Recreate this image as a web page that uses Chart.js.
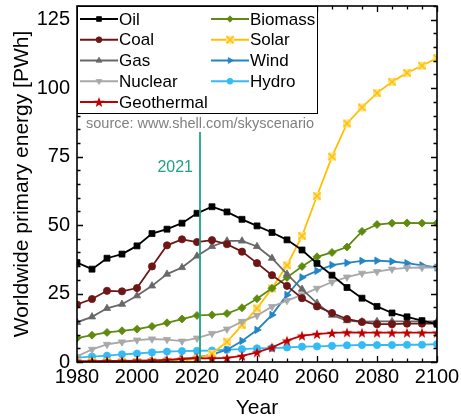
<!DOCTYPE html>
<html>
<head>
<meta charset="utf-8">
<script src="https://cdn.jsdelivr.net/npm/chart.js@4.4.0/dist/chart.umd.min.js"></script>
<style>
  html, body { margin: 0; padding: 0; background: #fff; }
  #wrap { width: 461px; height: 419px; }
</style>
</head>
<body>
<div id="wrap"><canvas id="myChart" width="461" height="419"></canvas></div>
<script>
// Shell Sky scenario, world primary energy by source [PWh]
const years = [1980, 1985, 1990, 1995, 2000, 2005, 2010, 2015, 2020, 2025, 2030, 2035, 2040,
  2045, 2050, 2055, 2060, 2065, 2070, 2075, 2080, 2085, 2090, 2095, 2100];

const oil = [36.3, 33.9, 37.9, 39.4, 42.4, 46.9, 48.5, 50.7, 54.3, 56.7, 54.8, 52.1, 49.7,
  47.3, 44.6, 40.9, 36.0, 31.7, 27.2, 23.3, 20.3, 17.9, 16.5, 15.1, 13.8];
const coal = [21.0, 23.0, 26.0, 25.8, 27.0, 34.9, 42.6, 44.8, 43.8, 44.5, 43.0, 40.3, 36.1,
  31.7, 27.8, 23.3, 20.3, 17.9, 15.7, 14.6, 13.8, 13.8, 14.0, 14.0, 14.0];
const gas = [14.5, 16.5, 19.6, 21.1, 24.2, 27.8, 32.1, 34.5, 38.7, 42.2, 44.2, 44.2, 42.2,
  37.9, 32.1, 26.6, 21.5, 17.1, 15.1, 14.7, 14.8, 14.8, 14.8, 14.8, 14.8];
const nuclear = [2.0, 4.6, 6.4, 7.3, 8.0, 8.4, 8.2, 7.6, 8.7, 10.4, 12.0, 14.8, 17.0,
  20.2, 22.4, 24.5, 26.9, 29.2, 31.0, 32.4, 33.0, 33.9, 34.4, 34.5, 34.5];
const geothermal = [0.3, 0.3, 0.4, 0.4, 0.5, 0.6, 0.8, 1.1, 1.4, 1.3, 1.5, 2.2, 3.5,
  5.3, 7.8, 9.6, 10.2, 10.6, 10.8, 10.7, 10.7, 10.7, 10.7, 10.7, 10.7];
const biomass = [8.7, 9.8, 10.8, 11.4, 12.0, 13.0, 14.3, 15.7, 17.0, 17.2, 17.7, 19.8, 23.1,
  26.9, 30.9, 34.9, 38.4, 40.0, 42.0, 47.7, 50.2, 50.7, 50.8, 50.7, 50.7];
const solar = [0, 0, 0, 0, 0, 0, 0.1, 0.4, 1.2, 3.0, 7.4, 13.5, 19.6,
  26.9, 35.3, 46.0, 60.6, 75.0, 87.1, 93.0, 98.2, 102.3, 105.6, 108.2, 111.0];
const wind = [0, 0, 0, 0, 0.1, 0.3, 0.6, 1.1, 1.7, 2.7, 4.5, 7.7, 11.7,
  17.2, 24.5, 30.9, 33.3, 35.4, 36.2, 36.9, 37.0, 36.7, 36.1, 35.3, 34.5];
const hydro = [1.6, 2.0, 2.3, 2.8, 3.1, 3.5, 3.8, 4.0, 4.1, 4.2, 4.5, 4.7, 5.0,
  5.1, 5.3, 5.6, 5.7, 5.9, 6.1, 6.2, 6.2, 6.2, 6.3, 6.3, 6.5];

const markYear = 2021;
const markLabel = '2021';
const sourceText = 'source: www.shell.com/skyscenario';

const FONT = '"Liberation Sans", Arial, sans-serif';

// little canvases for the markers chart.js doesn't have
function starImage(color) {
  const c = document.createElement('canvas');
  c.width = 12; c.height = 12;
  const g = c.getContext('2d');
  g.beginPath();
  for (let i = 0; i < 10; i++) {
    const r = i % 2 ? 2.3 : 5.5;
    const a = -Math.PI / 2 + i * Math.PI / 5;
    g.lineTo(6 + r * Math.cos(a), 6.5 + r * Math.sin(a));
  }
  g.closePath();
  g.fillStyle = color;
  g.fill();
  return c;
}

function solarImage() {
  const c = document.createElement('canvas');
  c.width = 10; c.height = 10;
  const g = c.getContext('2d');
  g.fillStyle = '#ffe38a';
  g.fillRect(1, 1, 8, 8);
  g.strokeStyle = '#ffc000';
  g.lineWidth = 1.6;
  g.beginPath();
  g.moveTo(1.5, 1.5); g.lineTo(8.5, 8.5);
  g.moveTo(8.5, 1.5); g.lineTo(1.5, 8.5);
  g.stroke();
  return c;
}

const series = [
  { label: 'Oil', data: oil, color: '#000000', style: 'rect', radius: 4.2, rotation: 0 },
  { label: 'Coal', data: coal, color: '#6e1616', style: 'circle', radius: 3.6, rotation: 0 },
  { label: 'Gas', data: gas, color: '#686868', style: 'triangle', radius: 4.2, rotation: 0 },
  { label: 'Nuclear', data: nuclear, color: '#a8a8a8', style: 'triangle', radius: 4.2, rotation: 180 },
  { label: 'Geothermal', data: geothermal, color: '#c00000', style: starImage('#c00000'), radius: 4, rotation: 0 },
  { label: 'Biomass', data: biomass, color: '#5e8a0e', style: 'rectRot', radius: 4, rotation: 0 },
  { label: 'Solar', data: solar, color: '#ffc000', style: solarImage(), radius: 4, rotation: 0 },
  { label: 'Wind', data: wind, color: '#2384c6', style: 'triangle', radius: 4.2, rotation: 90 },
  { label: 'Hydro', data: hydro, color: '#33bbf5', style: 'circle', radius: 3.6, rotation: 0 }
];

const datasets = series.map(s => ({
  label: s.label,
  data: years.map((y, i) => ({ x: y, y: s.data[i] })),
  borderColor: s.color,
  backgroundColor: s.color,
  borderWidth: 1.8,
  pointStyle: s.style,
  pointRadius: s.radius,
  pointRotation: s.rotation,
  pointBorderWidth: 0.8,
  pointBackgroundColor: s.color,
  pointBorderColor: s.color,
  tension: 0
}));

// frame + inward ticks on all four sides
const framePlugin = {
  id: 'frame',
  afterDatasetsDraw(chart) {
    const ctx = chart.ctx, a = chart.chartArea;
    const xs = chart.scales.x, ys = chart.scales.y;
    ctx.save();
    ctx.strokeStyle = '#000';
    ctx.lineWidth = 1.3;
    ctx.beginPath();
    for (let v = xs.min; v <= xs.max; v += 5) {
      const px = Math.round(xs.getPixelForValue(v)) + 0.5;
      const len = v % 20 === 0 ? 6 : 3.5;
      ctx.moveTo(px, a.bottom); ctx.lineTo(px, a.bottom - len);
      ctx.moveTo(px, a.top); ctx.lineTo(px, a.top + len);
    }
    for (let v = ys.min; v <= ys.max; v += 5) {
      const py = Math.round(ys.getPixelForValue(v)) + 0.5;
      const len = v % 25 === 0 ? 6 : 3.5;
      ctx.moveTo(a.left, py); ctx.lineTo(a.left + len, py);
      ctx.moveTo(a.right, py); ctx.lineTo(a.right - len, py);
    }
    ctx.stroke();

    // 2021 marker
    const mx = xs.getPixelForValue(markYear);
    ctx.strokeStyle = '#1fa386';
    ctx.lineWidth = 1.8;
    ctx.beginPath();
    ctx.moveTo(mx, ys.getPixelForValue(84));
    ctx.lineTo(mx, a.bottom);
    ctx.stroke();
    ctx.fillStyle = '#1fa386';
    ctx.font = '16px ' + FONT;
    ctx.textAlign = 'right';
    ctx.textBaseline = 'middle';
    ctx.fillText(markLabel, mx - 7, ys.getPixelForValue(71));

    // legend box
    const bw = 240, bh = 107;
    ctx.fillStyle = '#fff';
    ctx.fillRect(a.left, a.top, bw, bh);
    ctx.strokeStyle = '#000';
    ctx.lineWidth = 1;
    ctx.strokeRect(a.left + 0.5, a.top + 0.5, bw, bh);
    ctx.font = '17px ' + FONT;
    ctx.textAlign = 'left';
    series.forEach((s, i) => {
      const col = i < 5 ? 0 : 1;
      const row = i < 5 ? i : i - 5;
      const x0 = a.left + (col ? 134 : 3);
      const y0 = a.top + 13 + row * 20.75;
      ctx.strokeStyle = s.color;
      ctx.lineWidth = 1.8;
      ctx.beginPath();
      ctx.moveTo(x0, y0); ctx.lineTo(x0 + 38, y0);
      ctx.stroke();
      ctx.fillStyle = s.color;
      ctx.lineWidth = 0.8;
      Chart.helpers.drawPoint(ctx, { pointStyle: s.style, radius: s.radius * 0.8, rotation: s.rotation, borderWidth: 0.8 }, x0 + 19, y0);
      ctx.fillStyle = '#000';
      ctx.fillText(s.label, x0 + 39, y0 + 1);
    });

    ctx.fillStyle = '#808080';
    ctx.font = '14.5px ' + FONT;
    ctx.fillText(sourceText, a.left + 9, a.top + 118);

    // axis box
    ctx.strokeStyle = '#000';
    ctx.lineWidth = 1.6;
    ctx.strokeRect(a.left, a.top, a.right - a.left, a.bottom - a.top);
    ctx.restore();
  }
};

const ctx = document.getElementById('myChart').getContext('2d');
const chart = new Chart(ctx, {
  type: 'line',
  data: { datasets: datasets },
  options: {
    responsive: false,
    animation: false,
    devicePixelRatio: 1,
    layout: { padding: { left: 0, right: 24, top: 6, bottom: 0 } },
    plugins: { legend: { display: false }, tooltip: { enabled: false } },
    scales: {
      x: {
        type: 'linear',
        min: 1980,
        max: 2100,
        afterFit: s => { s.height = 57; s.paddingLeft = 0; s.paddingRight = 0; },
        grid: { display: false, drawTicks: false },
        border: { display: false },
        ticks: { stepSize: 20, padding: 3, color: '#000', font: { family: FONT, size: 20 },
          callback: v => String(v) },
        title: { display: true, text: 'Year', color: '#000',
          font: { family: FONT, size: 21, lineHeight: 1 }, padding: { top: 0, bottom: 0 } }
      },
      y: {
        min: 0,
        max: 130,
        afterFit: s => { s.width = 77; s.paddingTop = 0; s.paddingBottom = 0; },
        grid: { display: false, drawTicks: false },
        border: { display: false },
        ticks: { stepSize: 25, includeBounds: false, padding: 7, color: '#000', font: { family: FONT, size: 20 } },
        title: { display: true, text: 'Worldwide primary energy [PWh]', color: '#000',
          font: { family: FONT, size: 21, lineHeight: 1 }, padding: { top: 11.5, bottom: 0 } }
      }
    }
  },
  plugins: [framePlugin]
});
</script>
</body>
</html>
